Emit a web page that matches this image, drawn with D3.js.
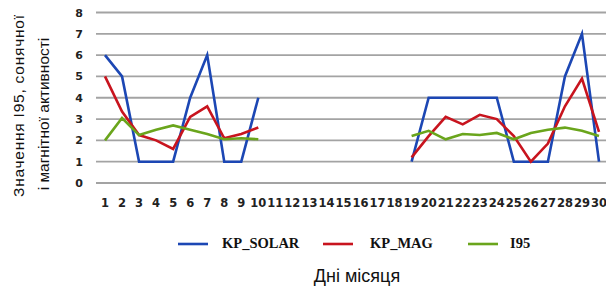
<!DOCTYPE html>
<html><head><meta charset="utf-8">
<script src="https://cdn.jsdelivr.net/npm/d3@7"></script>
<style>body{margin:0;background:#fff}svg{display:block}</style>
</head><body>
<svg id="c" width="606" height="288"></svg>
<script>
const days = d3.range(1, 31);
const kpSolar = [6,5,1,1,1,4,6,1,1,4, null,null,null,null,null,null,null,null, 1,4,4,4,4,4,1,1,1,5,7,1];
const kpMag   = [5,3.35,2.25,2.0,1.6,3.1,3.6,2.1,2.3,2.6, null,null,null,null,null,null,null,null, 1.2,2.2,3.1,2.75,3.2,3.0,2.2,1.0,1.85,3.6,4.9,2.4];
const i95     = [2.0,3.05,2.25,2.5,2.7,2.5,2.3,2.05,2.1,2.05, null,null,null,null,null,null,null,null, 2.2,2.45,2.05,2.3,2.25,2.35,2.05,2.35,2.5,2.6,2.45,2.2];
const yTicks = [0,1,2,3,4,5,6,7,8];
const seriesNames = ["KP_SOLAR","KP_MAG","I95"];
const colors = ["#1c47b4","#c8141e","#6aa51c"];

const svg = d3.select("#c");
const x = d3.scaleLinear().domain([1,30]).range([105,599]);
const y = d3.scaleLinear().domain([0,8]).range([183,12.5]);

// gridlines
svg.append("g").selectAll("line").data(yTicks).join("line")
  .attr("x1",96).attr("x2",606)
  .attr("y1",d=>y(d)).attr("y2",d=>y(d))
  .attr("stroke","#a3a3a3").attr("stroke-width",1.8);

// y tick labels
svg.append("g").selectAll("text").data(yTicks).join("text")
  .attr("x",83).attr("y",d=>y(d)+4)
  .attr("text-anchor","end")
  .attr("font-family","DejaVu Sans").attr("font-weight","bold").attr("font-size",11)
  .attr("fill","#222").text(d=>d);

// x tick labels
svg.append("g").selectAll("text").data(days).join("text")
  .attr("x",d=>x(d)).attr("y",207)
  .attr("text-anchor","middle")
  .attr("font-family","DejaVu Sans").attr("font-weight","bold").attr("font-size",11.5)
  .attr("fill","#222").text(d=>d);

// lines
const data = [kpSolar,kpMag,i95];
const line = d3.line().defined(d=>d.v!=null).x(d=>x(d.day)).y(d=>y(d.v));
data.forEach((s,i)=>{
  svg.append("path")
    .datum(days.map((d,j)=>({day:d,v:s[j]})))
    .attr("d",line).attr("fill","none")
    .attr("stroke",colors[i]).attr("stroke-width",2.6)
    .attr("stroke-linejoin","miter");
});

// legend
const legX = [178,323,468];
const legT = [222,370,510];
seriesNames.forEach((n,i)=>{
  svg.append("line").attr("x1",legX[i]).attr("x2",legX[i]+30)
    .attr("y1",244).attr("y2",244).attr("stroke",colors[i]).attr("stroke-width",2.6);
  svg.append("text").attr("x",legT[i]).attr("y",248)
    .attr("font-family","Liberation Serif").attr("font-weight","bold").attr("font-size",14.5)
    .attr("fill","#111").text(n);
});

// x title
svg.append("text").attr("x",357).attr("y",282).attr("text-anchor","middle")
  .attr("font-family","Liberation Sans").attr("font-size",18).attr("fill","#111")
  .text("Дні місяця");

// y title
svg.append("text").attr("transform","translate(24,106) rotate(-90)")
  .attr("text-anchor","middle")
  .attr("font-family","Liberation Sans").attr("font-size",15.5).attr("fill","#111")
  .attr("textLength",182).attr("lengthAdjust","spacing")
  .text("Значення  I95, сонячної");
svg.append("text").attr("transform","translate(49,114) rotate(-90)")
  .attr("text-anchor","middle")
  .attr("font-family","Liberation Sans").attr("font-size",15.5).attr("fill","#111")
  .text("і магнітної активності");
</script>
</body></html>
